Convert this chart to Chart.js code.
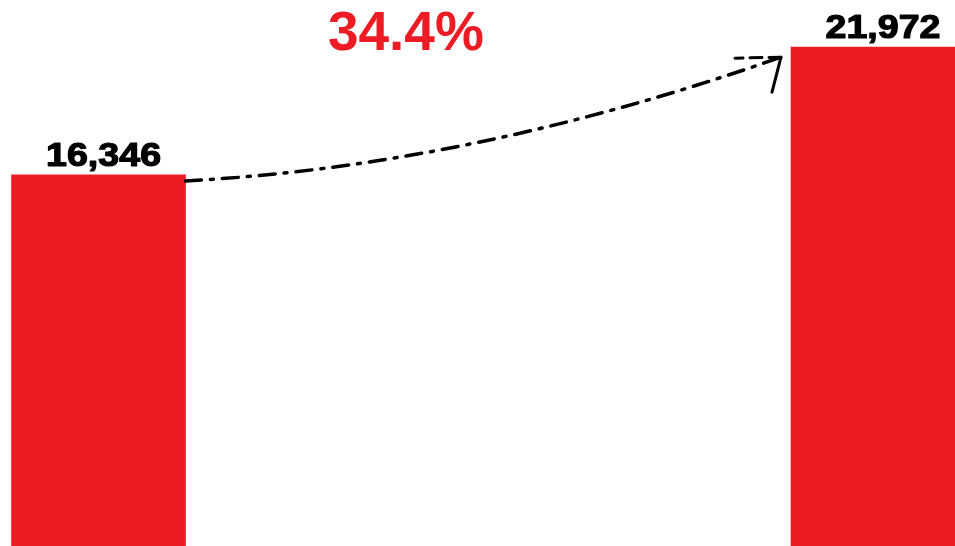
<!DOCTYPE html>
<html>
<head>
<meta charset="utf-8">
<script src="https://cdn.jsdelivr.net/npm/chart.js@4.4.0/dist/chart.umd.min.js"></script>
<style>
  html, body { margin: 0; padding: 0; background: #fff; }
  #wrap { width: 955px; height: 546px; position: relative; }
</style>
</head>
<body>
<div id="wrap"><canvas id="growth"></canvas></div>
<script>
// two periods, positioned on a numeric x axis
let periods = ['Before', 'After'];
let periodPos = [0, 1];
let totals = [16346, 21972];

let barRed = '#ed1c24';

let growthData = {
    labels: periods,
    datasets: [{
        label: 'Total',
        data: periodPos.map((x, i) => ({ x: x, y: totals[i] })),
        backgroundColor: barRed,
        borderWidth: 0,
        barThickness: 174,
    }]
};

// value labels, the % change and the dashed arrow between the bars
let annotate = {
    id: 'annotate',
    afterDatasetsDraw(chart) {
        let ctx = chart.ctx;
        let bars = chart.getDatasetMeta(0).data;

        ctx.save();
        ctx.fillStyle = '#000';
        ctx.strokeStyle = '#000';
        ctx.lineWidth = 1.2;
        ctx.lineJoin = 'round';
        ctx.textAlign = 'center';
        ctx.textBaseline = 'alphabetic';
        ctx.font = 'bold 33px "Liberation Sans", Arial, sans-serif';
        bars.forEach((bar, i) => {
            let txt = totals[i].toLocaleString('en-US');
            ctx.save();
            ctx.translate(bar.x + 5, bar.y - 9);
            ctx.scale(1.14, 1);
            ctx.fillText(txt, 0, 0);
            ctx.strokeText(txt, 0, 0);
            ctx.restore();
        });

        let pct = (totals[1] / totals[0] - 1) * 100;
        ctx.fillStyle = barRed;
        ctx.font = 'bold 55px "Liberation Sans", Arial, sans-serif';
        ctx.fillText(pct.toFixed(1) + '%', chart.chartArea.width * 0.425, 50);

        // curved dashed arrow from the first bar to the second
        let a = bars[0], b = bars[1];
        let sx = a.x + a.width / 2, sy = a.y + 6;
        let ex = b.x - b.width / 2 - 10, ey = b.y + 10;
        let cx = sx + 0.48 * (ex - sx), cy = sy - 0.12 * (sy - ey);
        ctx.strokeStyle = '#000';
        ctx.lineWidth = 3.5;
        ctx.lineCap = 'round';
        ctx.setLineDash([16, 9, 3, 9]);
        ctx.beginPath();
        ctx.moveTo(sx, sy);
        ctx.quadraticCurveTo(cx, cy, ex, ey);
        ctx.stroke();

        ctx.lineWidth = 3;
        ctx.setLineDash([12, 7]);
        ctx.beginPath();
        ctx.moveTo(ex, ey);
        ctx.lineTo(ex - 46, ey + 1);
        ctx.stroke();
        ctx.setLineDash([]);
        ctx.beginPath();
        ctx.moveTo(ex, ey);
        ctx.lineTo(ex - 9, ey + 35);
        ctx.stroke();
        ctx.restore();
    }
};

let growthConfig = {
    type: 'bar',
    data: growthData,
    options: {
        responsive: true,
        maintainAspectRatio: false,
        animation: false,
        layout: { padding: 0 },
        plugins: {
            legend: { display: false },
            tooltip: { enabled: false },
        },
        scales: {
            x: { type: 'linear', offset: false, min: -0.1264, max: 1.0988, display: false },
            y: { min: 0, max: 24050, display: false },
        },
    },
    plugins: [annotate],
};

let growthCtx = document.getElementById('growth').getContext('2d');
let growthChart = new Chart(growthCtx, growthConfig);
</script>
</body>
</html>
